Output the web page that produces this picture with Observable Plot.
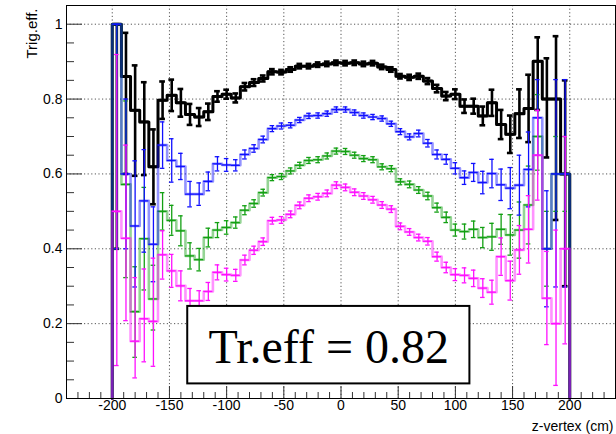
<!DOCTYPE html>
<html><head><meta charset="utf-8">
<script src="https://cdn.jsdelivr.net/npm/d3@7"></script>
<script src="https://cdn.jsdelivr.net/npm/@observablehq/plot@0.6"></script>
<style>body{margin:0;background:#fff} #chart{width:616px;height:434px}</style>
</head><body><div id="chart"></div>
<script>
// ---- data ----
const zMin = -200, binWidth = 8;           // 50 bins from -200 to 200 cm
const black = [1.0,0.86,0.77,0.739,0.619,0.797,0.81,0.79,0.759,0.752,
  0.766,0.807,0.813,0.803,0.833,0.844,0.855,0.873,0.872,0.879,
  0.888,0.888,0.892,0.894,0.897,0.896,0.897,0.894,0.896,0.886,
  0.879,0.861,0.858,0.861,0.848,0.828,0.808,0.813,0.781,0.781,
  0.755,0.79,0.732,0.706,0.761,0.775,0.901,0.80,0.80,0.60];
const blackErrLo = [0.60,0.26,0.175,0.142,0.10,0.05,0.042,0.037,0.028,0.024,
  0.022,0.014,0.012,0.012,0.010,0.009,0.008,0.007,0.006,0.006,
  0.006,0.006,0.006,0.006,0.006,0.006,0.006,0.006,0.006,0.006,
  0.006,0.006,0.007,0.007,0.008,0.010,0.011,0.013,0.018,0.020,
  0.025,0.035,0.039,0.050,0.065,0.090,0.130,0.156,0.323,0.300];
const blackErrHi = [0,0.117,0.12,0.106,0.10,0.05,0.042,0.037,0.028,0.024,
  0.022,0.014,0.012,0.012,0.010,0.009,0.008,0.007,0.006,0.006,
  0.006,0.006,0.006,0.006,0.006,0.006,0.006,0.006,0.006,0.006,
  0.006,0.006,0.007,0.007,0.008,0.010,0.011,0.013,0.018,0.020,
  0.025,0.035,0.039,0.050,0.065,0.090,0.064,0.109,0.168,0.250];

const blue = [1.0,0.60,0.461,0.528,0.412,0.677,0.636,0.62,0.546,0.546,
  0.58,0.627,0.624,0.623,0.652,0.668,0.692,0.721,0.728,0.73,
  0.744,0.755,0.756,0.761,0.772,0.772,0.764,0.756,0.752,0.748,
  0.734,0.713,0.699,0.708,0.682,0.652,0.639,0.615,0.59,0.604,
  0.577,0.601,0.571,0.562,0.57,0.612,0.75,0.40,0.60,0.60];
const blueErrLo = [0.60,0.20,0.163,0.137,0.10,0.062,0.058,0.035,0.034,0.03,
  0.025,0.019,0.017,0.015,0.012,0.010,0.009,0.008,0.008,0.007,
  0.007,0.007,0.007,0.007,0.007,0.007,0.007,0.007,0.007,0.007,
  0.007,0.008,0.008,0.009,0.010,0.012,0.013,0.015,0.018,0.024,
  0.030,0.038,0.042,0.055,0.080,0.100,0.100,0.155,0.302,0.302];
const blueErrHi = [0,0.20,0.174,0.137,0.10,0.062,0.058,0.035,0.034,0.03,
  0.025,0.019,0.017,0.015,0.012,0.010,0.009,0.008,0.008,0.007,
  0.007,0.007,0.007,0.007,0.007,0.007,0.007,0.007,0.007,0.007,
  0.007,0.008,0.008,0.009,0.010,0.012,0.013,0.015,0.018,0.024,
  0.030,0.038,0.042,0.055,0.080,0.100,0.102,0.155,0.252,0.252];

const green = [1.0,0.572,0.232,0.427,0.266,0.50,0.476,0.448,0.381,0.371,
  0.43,0.45,0.457,0.47,0.503,0.521,0.55,0.59,0.593,0.608,
  0.623,0.636,0.638,0.648,0.661,0.66,0.65,0.641,0.638,0.619,
  0.614,0.579,0.572,0.557,0.541,0.51,0.484,0.45,0.446,0.452,
  0.43,0.432,0.452,0.437,0.45,0.517,0.70,0.40,0.60,0.60];
const greenErrLo = [0.60,0.249,0.122,0.137,0.083,0.05,0.04,0.04,0.035,0.03,
  0.025,0.02,0.018,0.015,0.012,0.010,0.009,0.008,0.008,0.008,
  0.008,0.008,0.008,0.008,0.008,0.008,0.008,0.008,0.008,0.008,
  0.008,0.008,0.009,0.009,0.010,0.012,0.014,0.016,0.020,0.022,
  0.027,0.036,0.040,0.054,0.075,0.104,0.090,0.10,0.10,0.10];
const greenErrHi = [0,0.223,0.12,0.137,0.09,0.05,0.04,0.04,0.035,0.03,
  0.025,0.02,0.018,0.015,0.012,0.010,0.009,0.008,0.008,0.008,
  0.008,0.008,0.008,0.008,0.008,0.008,0.008,0.008,0.008,0.008,
  0.008,0.008,0.009,0.009,0.010,0.012,0.014,0.016,0.020,0.022,
  0.027,0.036,0.040,0.054,0.075,0.104,0.112,0.10,0.10,0.10];

const magenta = [0.50,0.428,0.153,0.213,0.206,0.384,0.341,0.301,0.261,0.261,
  0.286,0.337,0.331,0.329,0.37,0.396,0.419,0.475,0.477,0.492,
  0.516,0.535,0.539,0.548,0.57,0.564,0.551,0.541,0.531,0.517,
  0.506,0.46,0.445,0.43,0.42,0.379,0.35,0.331,0.329,0.321,
  0.295,0.284,0.379,0.315,0.397,0.452,0.65,0.268,0.20,0.40];
const magentaErrLo = [0.412,0.22,0.098,0.115,0.12,0.065,0.044,0.04,0.033,0.027,
  0.024,0.02,0.017,0.016,0.013,0.011,0.010,0.009,0.009,0.009,
  0.009,0.009,0.009,0.009,0.009,0.009,0.009,0.009,0.009,0.009,
  0.009,0.009,0.009,0.009,0.010,0.012,0.014,0.016,0.020,0.022,
  0.025,0.032,0.050,0.052,0.065,0.090,0.12,0.124,0.165,0.254];
const magentaErrHi = [0.419,0.249,0.17,0.133,0.169,0.064,0.044,0.04,0.033,0.027,
  0.024,0.02,0.017,0.016,0.013,0.011,0.010,0.009,0.009,0.009,
  0.009,0.009,0.009,0.009,0.009,0.009,0.009,0.009,0.009,0.009,
  0.009,0.009,0.009,0.009,0.010,0.012,0.014,0.016,0.020,0.022,
  0.025,0.032,0.050,0.052,0.065,0.090,0.12,0.125,0.25,0.30];

const xMajorTicks = [-200,-150,-100,-50,0,50,100,150,200];
const yMajorTicks = [0,0.2,0.4,0.6,0.8,1];
const yTitle = "Trig.eff.";
const xTitle = "z-vertex (cm)";
const boxText = "Tr.eff = 0.82";
const boxExtent = {x1:-134, x2:112.7, y1:0.039, y2:0.246};

// ---- build ----
const series = [
  {values:black,   lo:blackErrLo,   hi:blackErrHi,   color:"#000000", step:3,   stepOp:1,    bar:2.6, cap:2.5},
  {values:green,   lo:greenErrLo,   hi:greenErrHi,   color:"#13a013", step:2.6, stepOp:0.45, bar:1.3, cap:2.0},
  {values:blue,    lo:blueErrLo,    hi:blueErrHi,    color:"#1010ff", step:2.6, stepOp:0.45, bar:1.3, cap:2.0},
  {values:magenta, lo:magentaErrLo, hi:magentaErrHi, color:"#ff10ff", step:2.6, stepOp:0.45, bar:1.3, cap:2.0}
];
function stepPoints(s) {
  const n = s.values.length;
  const pts = [{x: zMin, y: 0}];
  s.values.forEach((v, i) => pts.push({x: zMin + i * binWidth, y: v}));
  pts.push({x: zMin + n * binWidth, y: s.values[n - 1]});
  pts.push({x: zMin + n * binWidth, y: 0});
  return pts;
}
function barRows(s) {
  return s.values.map((v, i) => ({
    x0: zMin + i * binWidth, x1: zMin + (i + 1) * binWidth, xc: zMin + (i + 0.5) * binWidth,
    y: v, ylo: Math.max(0, v - s.lo[i]), yhi: Math.min(1, v + s.hi[i])
  }));
}
const xMinor = d3.range(-240, 241, 10).filter(d => d % 50 !== 0);
const yMinor = d3.range(0, 21).map(i => i * 0.05).filter((d, i) => i % 4 !== 0);

const W = 616, H = 434, mL = 66, mR = 1, mT = 5, mB = 36;
const innerW = W - mL - mR, innerH = H - mT - mB;

const marks = [];
// grid
marks.push(Plot.ruleX(xMajorTicks, {x: d => d, stroke: "#000", strokeOpacity: 0.75, strokeWidth: 0.9, strokeDasharray: "1.2,2.4"}));
marks.push(Plot.ruleY(yMajorTicks.filter(d => d > 0), {y: d => d, stroke: "#000", strokeOpacity: 0.75, strokeWidth: 0.9, strokeDasharray: "1.2,2.4"}));
// ticks (inside)
marks.push(Plot.tickX(xMinor, {x: d => d, stroke: "#333", insetTop: innerH - 6}));
marks.push(Plot.tickX(xMajorTicks, {x: d => d, stroke: "#333", insetTop: innerH - 12}));
marks.push(Plot.tickY(yMinor, {y: d => d, stroke: "#333", insetRight: innerW - 8}));
marks.push(Plot.tickY(yMajorTicks, {y: d => d, stroke: "#333", insetRight: innerW - 16}));
// series
for (const s of series) {
  const rows = barRows(s);
  marks.push(Plot.line(stepPoints(s), {x: "x", y: "y", curve: "step-after", stroke: s.color, strokeWidth: s.step, strokeOpacity: s.stepOp}));
  marks.push(Plot.ruleY(rows, {y: "y", x1: "x0", x2: "x1", stroke: s.color, strokeWidth: s.bar}));
  marks.push(Plot.ruleX(rows, {x: "xc", y1: "ylo", y2: "yhi", stroke: s.color, strokeWidth: s.bar}));
  marks.push(Plot.ruleY(rows, {y: "ylo", x1: d => d.xc - s.cap, x2: d => d.xc + s.cap, stroke: s.color, strokeWidth: s.bar}));
  marks.push(Plot.ruleY(rows, {y: "yhi", x1: d => d.xc - s.cap, x2: d => d.xc + s.cap, stroke: s.color, strokeWidth: s.bar}));
}
// annotation box
marks.push(Plot.rect([boxExtent], {x1: "x1", x2: "x2", y1: "y1", y2: "y2", fill: "white", stroke: "black", strokeWidth: 2}));
marks.push(Plot.text([boxText], {x: (boxExtent.x1 + boxExtent.x2) / 2, y: 0.136, text: d => d,
  fontFamily: "Liberation Serif, Times New Roman, serif", fontSize: 48, fill: "black"}));
// titles
marks.push(Plot.text([yTitle], {frameAnchor: "top-left", text: d => d, rotate: -90, textAnchor: "end", dx: -40, dy: 3, fontSize: 15}));
marks.push(Plot.text([xTitle], {frameAnchor: "bottom-right", text: d => d, textAnchor: "end", lineAnchor: "bottom", dx: -2, dy: 32, fontSize: 14}));
marks.push(Plot.frame({stroke: "#000", strokeWidth: 1}));

const chart = Plot.plot({
  width: W, height: H,
  marginLeft: mL, marginRight: mR, marginTop: mT, marginBottom: mB,
  style: {fontFamily: "Liberation Sans, Arial, Helvetica, sans-serif", fontSize: "14px", background: "white", color: "black"},
  x: {domain: [-240, 240], ticks: xMajorTicks, tickSize: 0, tickPadding: 2, tickFormat: d => String(d), label: null},
  y: {domain: [0, 1.05], ticks: yMajorTicks, tickSize: 0, tickPadding: 4, tickFormat: d => String(d), label: null},
  marks
});
document.getElementById("chart").appendChild(chart);
</script>
</body></html>
